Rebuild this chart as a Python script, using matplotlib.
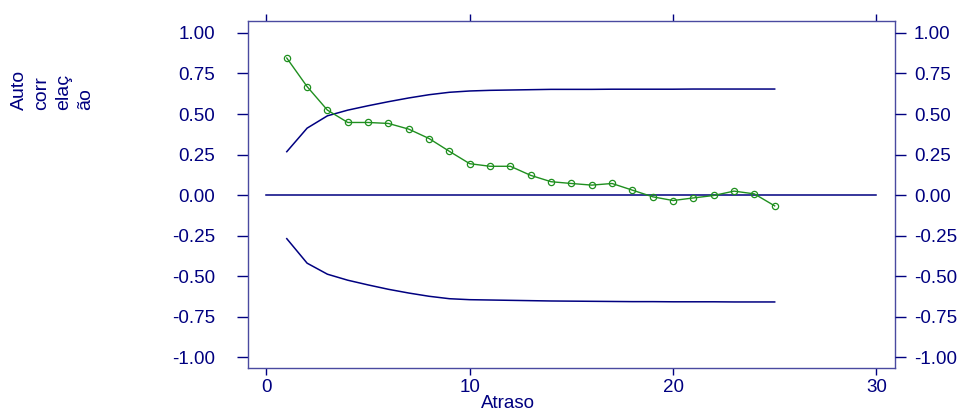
import numpy as np
import matplotlib
matplotlib.use('Agg')
import matplotlib.pyplot as plt

# Autocorrelation (green) and confidence bands
lags = [1, 2, 3, 4, 5, 6, 7, 8, 9, 10, 11, 12, 13, 14, 15, 16, 17, 18, 19, 20, 21, 22, 23, 24, 25]
acf = [0.845, 0.669, 0.524, 0.448, 0.448, 0.442, 0.407, 0.349, 0.270, 0.194, 0.178, 0.178, 0.122,
       0.083, 0.072, 0.062, 0.072, 0.031, -0.010, -0.033, -0.017, -0.002, 0.025, 0.008, -0.066]
upper = [0.268, 0.413, 0.489, 0.524, 0.551, 0.576, 0.599, 0.619, 0.634, 0.642, 0.646, 0.648, 0.650,
         0.652, 0.652, 0.652, 0.653, 0.653, 0.653, 0.653, 0.654, 0.654, 0.654, 0.654, 0.654]
lower = [-0.268, -0.419, -0.487, -0.524, -0.553, -0.580, -0.603, -0.623, -0.638, -0.644, -0.646, -0.648,
         -0.650, -0.652, -0.653, -0.654, -0.655, -0.656, -0.656, -0.657, -0.657, -0.657, -0.658, -0.658, -0.658]
zero_x = [0, 30]
zero_y = [0, 0]
xticks = [0, 10, 20, 30]
yticks = [-1.0, -0.75, -0.5, -0.25, 0.0, 0.25, 0.5, 0.75, 1.0]

navy = '#000080'
green = '#1f8f1f'

plt.rcParams['font.family'] = ['Liberation Sans', 'DejaVu Sans']

fig = plt.figure(figsize=(9.63, 4.11), dpi=100)
ax = fig.add_axes([0.258, 0.1046, 0.671, 0.845])

ax.plot(zero_x, zero_y, color=navy, lw=1.1)
ax.plot(lags, upper, color=navy, lw=1.1)
ax.plot(lags, lower, color=navy, lw=1.1)
ax.plot(lags, acf, color=green, lw=1.0, marker='o', markersize=4.5,
        markerfacecolor='none', markeredgecolor=green, markeredgewidth=0.9)

ax.set_xlim(-0.885, 30.9)
ax.set_ylim(-1.065, 1.075)
ax.set_xticks(xticks)
ax.set_yticks(yticks)
ax.set_yticklabels([f'{v:.2f}' for v in yticks])

for s in ax.spines.values():
    s.set_color('#4a4aa0')
    s.set_linewidth(1.0)

ax.tick_params(axis='x', top=True, direction='out', length=5, width=1, color=navy,
               labelcolor=navy, labelsize=13.5, pad=3)
ax.tick_params(axis='y', direction='out', length=8, width=1, color=navy,
               labelcolor=navy, labelsize=13.5, pad=16)

# right side labels with their own padding
ax2 = ax.twinx()
ax2.set_ylim(ax.get_ylim())
ax2.set_yticks(yticks)
ax2.set_yticklabels([f'{v:.2f}' for v in yticks], ha='left')
ax2.tick_params(axis='y', direction='out', length=8, width=1, color=navy,
                labelcolor=navy, labelsize=13.5, pad=6)
for s in ax2.spines.values():
    s.set_visible(False)

fig.text(508 / 963, 1 - 403 / 411, 'Atraso', color=navy, fontsize=13.5, ha='center', va='center')
fig.text(11 / 963, 1 - 110 / 411, 'Auto\ncorr\nelaç\não', color=navy, fontsize=14,
         rotation=90, ha='left', va='bottom', multialignment='left', linespacing=1.4)

plt.savefig('out.png', dpi=100)
